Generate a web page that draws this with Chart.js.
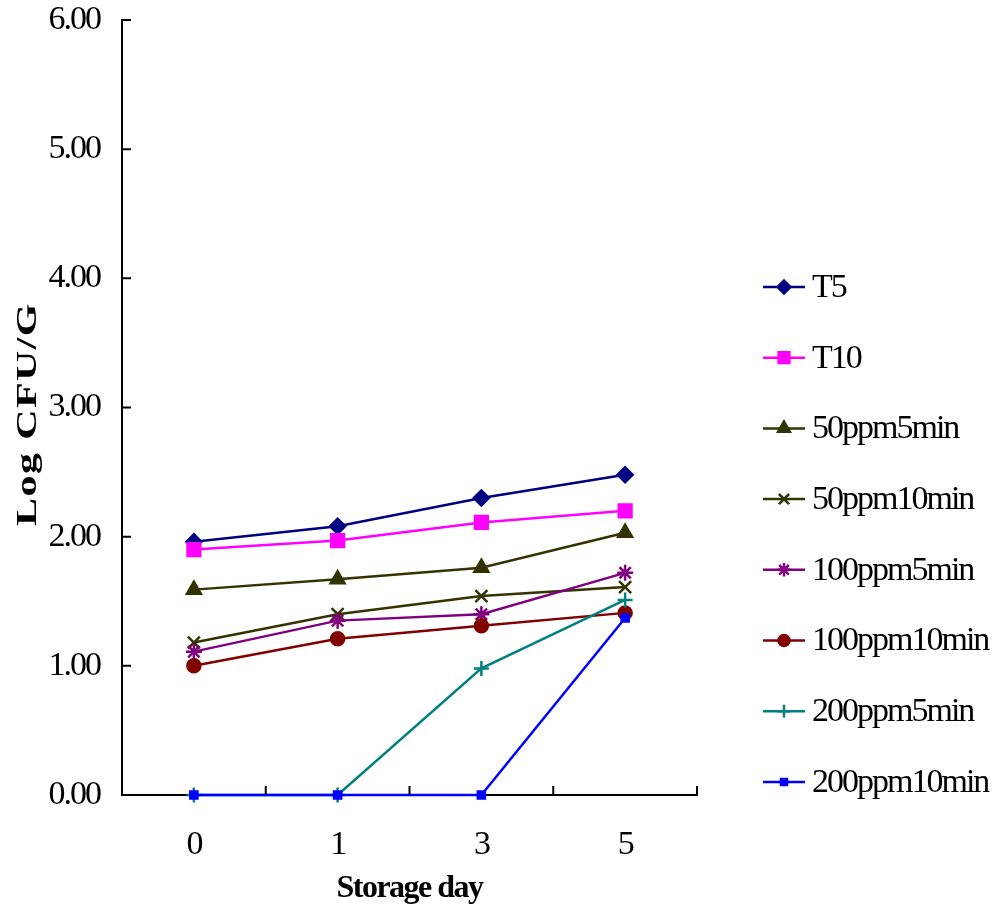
<!DOCTYPE html>
<html>
<head>
<meta charset="utf-8">
<script src="https://cdn.jsdelivr.net/npm/chart.js@4.4.1/dist/chart.umd.min.js"></script>
<style>
  html, body { margin: 0; padding: 0; background: #fff; }
  #chart { display: block; }
</style>
</head>
<body>
<canvas id="chart" width="996" height="912"></canvas>
<script>
// Storage days (categories)
const days = ["0", "1", "3", "5"];

// Series values (Log CFU/G)
const seriesNames = ["T5", "T10", "50ppm5min", "50ppm10min", "100ppm5min", "100ppm10min", "200ppm5min", "200ppm10min"];
const t5 = [1.96, 2.08, 2.30, 2.48];
const t10 = [1.90, 1.97, 2.11, 2.20];
const ppm50min5 = [1.59, 1.67, 1.76, 2.03];
const ppm50min10 = [1.18, 1.40, 1.54, 1.61];
const ppm100min5 = [1.11, 1.35, 1.40, 1.72];
const ppm100min10 = [1.00, 1.21, 1.31, 1.41];
const ppm200min5 = [0, 0, 0.98, 1.51];
const ppm200min10 = [0, 0, 0, 1.37];

const yTicks = [0, 1, 2, 3, 4, 5, 6];

// Look of each series
const styles = [
  { color: "#000080", point: "rectRot", radius: 7.5 },
  { color: "#FF00FF", point: "rect", radius: 9 },
  { color: "#333300", point: "triangle", radius: 8 },
  { color: "#333300", point: "crossRot", radius: 8.5 },
  { color: "#800080", point: "star", radius: 8 },
  { color: "#800000", point: "circle", radius: 6.5 },
  { color: "#008080", point: "cross", radius: 7.5 },
  { color: "#0000FF", point: "rect", radius: 5 },
];
const values = [t5, t10, ppm50min5, ppm50min10, ppm100min5, ppm100min10, ppm200min5, ppm200min10];

const datasets = seriesNames.map((name, i) => ({
  label: name,
  data: values[i],
  borderColor: styles[i].color,
  backgroundColor: styles[i].color,
  pointBackgroundColor: styles[i].color,
  pointBorderColor: styles[i].color,
  pointStyle: styles[i].point,
  pointRadius: styles[i].radius,
  pointBorderWidth: 2.5,
  borderWidth: 2.5,
  tension: 0,
  clip: false,
  order: seriesNames.length - i,
}));

const SERIF = "'Liberation Serif', 'Times New Roman', serif";

// Inward tick marks, axis titles and the legend on the right
const decorations = {
  id: "decorations",
  beforeDraw(chart) {
    chart.ctx.letterSpacing = "-2px";
  },
  afterDraw(chart) {
    const ctx = chart.ctx;
    const area = chart.chartArea;
    const ys = chart.scales.y;

    ctx.save();
    ctx.strokeStyle = "#000";
    ctx.lineWidth = 2;
    ctx.beginPath();
    yTicks.forEach((v) => {
      const y = ys.getPixelForValue(v);
      ctx.moveTo(area.left, y);
      ctx.lineTo(area.left + 9, y);
    });
    const step = (area.right - area.left) / days.length;
    for (let i = 0; i <= days.length; i++) {
      const x = area.left + i * step;
      ctx.moveTo(x, area.bottom);
      ctx.lineTo(x, area.bottom - 9);
    }
    ctx.stroke();

    // x title
    ctx.fillStyle = "#000";
    ctx.letterSpacing = "-1.5px";
    ctx.font = "bold 32px " + SERIF;
    ctx.textAlign = "center";
    ctx.textBaseline = "middle";
    ctx.fillText("Storage day", (area.left + area.right) / 2, 889);

    // y title (wide serif look)
    ctx.save();
    ctx.translate(28, 414);
    ctx.rotate(-Math.PI / 2);
    ctx.scale(1.4, 1);
    ctx.letterSpacing = "1px";
    ctx.font = "bold 30px " + SERIF;
    ctx.fillText("Log CFU/G", 0, 0);
    ctx.restore();

    // legend
    ctx.letterSpacing = "-2px";
    ctx.font = "34px " + SERIF;
    ctx.textAlign = "left";
    chart.data.datasets.forEach((ds, i) => {
      const y = 287 + i * 70.7;
      ctx.strokeStyle = ds.borderColor;
      ctx.fillStyle = ds.borderColor;
      ctx.lineWidth = 2.5;
      ctx.beginPath();
      ctx.moveTo(763, y);
      ctx.lineTo(805, y);
      ctx.stroke();
      Chart.helpers.drawPoint(ctx, {
        pointStyle: ds.pointStyle,
        radius: ds.pointRadius * 0.85,
        rotation: 0,
        borderWidth: 2,
      }, 784, y);
      ctx.fillStyle = "#000";
      ctx.fillText(ds.label, 812, y + 1);
    });
    ctx.restore();
  },
};

new Chart(document.getElementById("chart"), {
  type: "line",
  data: { labels: days, datasets: datasets },
  options: {
    responsive: false,
    animation: false,
    devicePixelRatio: 1,
    layout: { padding: { left: 0, top: 20, right: 299, bottom: 0 } },
    plugins: { legend: { display: false }, tooltip: { enabled: false } },
    scales: {
      x: {
        offset: true,
        grid: { display: false, drawTicks: false },
        border: { display: true, color: "#000", width: 2 },
        ticks: { color: "#000", padding: 30, font: { family: SERIF, size: 34 } },
        afterFit(s) { s.height = 117; },
      },
      y: {
        min: 0,
        max: 6,
        grid: { display: false, drawTicks: false },
        border: { display: true, color: "#000", width: 2 },
        ticks: {
          stepSize: 1,
          color: "#000",
          padding: 22,
          font: { family: SERIF, size: 34 },
          callback: (v) => Number(v).toFixed(2),
        },
        afterFit(s) { s.width = 122; s.paddingTop = 0; s.paddingBottom = 0; },
      },
    },
  },
  plugins: [decorations],
});
</script>
</body>
</html>
